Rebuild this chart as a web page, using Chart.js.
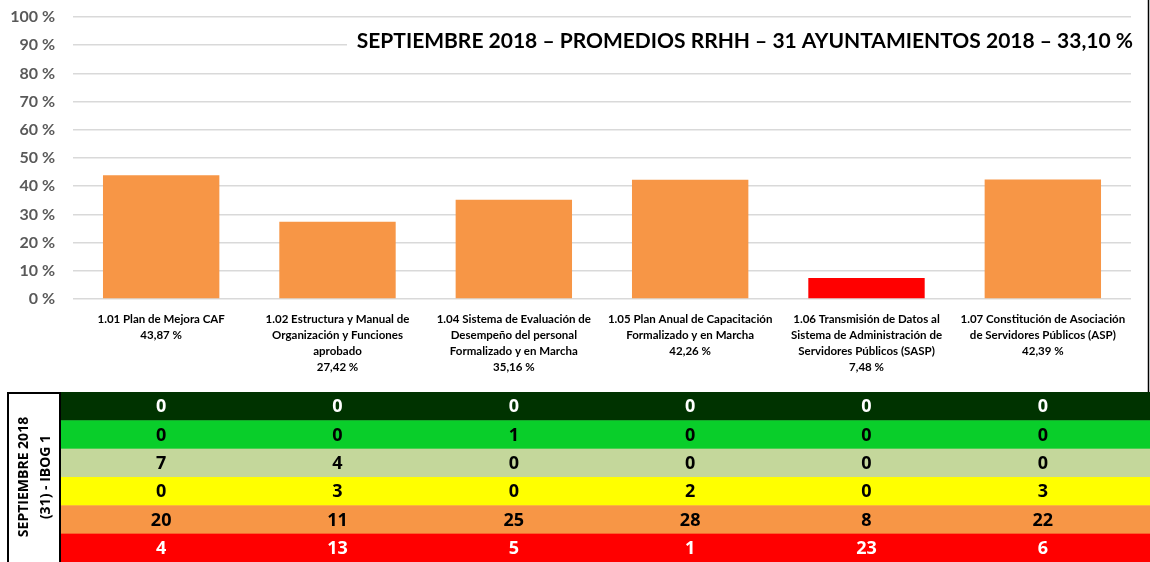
<!DOCTYPE html>
<html>
<head>
<meta charset="utf-8">
<script src="https://cdn.jsdelivr.net/npm/chart.js@4.4.0/dist/chart.umd.min.js"></script>
<style>
  body { margin: 0; background: #fff; }
  canvas { display: block; }
</style>
</head>
<body>
<canvas id="myChart" width="1150" height="562"></canvas>
<script>
// chart data
const categories = [
    ['1.01 Plan de Mejora CAF', '43,87 %'],
    ['1.02 Estructura y Manual de', 'Organización y Funciones', 'aprobado', '27,42 %'],
    ['1.04 Sistema de Evaluación de', 'Desempeño del personal', 'Formalizado y en Marcha', '35,16 %'],
    ['1.05 Plan Anual de Capacitación', 'Formalizado y en Marcha', '42,26 %'],
    ['1.06 Transmisión de Datos al', 'Sistema de Administración de', 'Servidores Públicos (SASP)', '7,48 %'],
    ['1.07 Constitución de Asociación', 'de Servidores Públicos (ASP)', '42,39 %']
];
const promedios = [43.87, 27.42, 35.16, 42.26, 7.48, 42.39];
const barColors = ['#F79646', '#F79646', '#F79646', '#F79646', '#FF0000', '#F79646'];
const yTicks = [0, 10, 20, 30, 40, 50, 60, 70, 80, 90, 100];

const titleText = 'SEPTIEMBRE 2018 – PROMEDIOS RRHH – 31 AYUNTAMIENTOS 2018 – 33,10 %';

// table under the chart (number of ayuntamientos per level)
const tableLabel = ['SEPTIEMBRE 2018', '(31) - IBOG 1'];
const rowDarkGreen = [0, 0, 0, 0, 0, 0];
const rowGreen = [0, 0, 1, 0, 0, 0];
const rowLightGreen = [7, 4, 0, 0, 0, 0];
const rowYellow = [0, 3, 0, 2, 0, 3];
const rowOrange = [20, 11, 25, 28, 8, 22];
const rowRed = [4, 13, 5, 1, 23, 6];

const tableRows = [
    {values: rowDarkGreen, bg: '#003300', fg: '#ffffff'},
    {values: rowGreen, bg: '#09CE2A', fg: '#000000'},
    {values: rowLightGreen, bg: '#C4D79B', fg: '#000000'},
    {values: rowYellow, bg: '#FFFF00', fg: '#000000'},
    {values: rowOrange, bg: '#F79646', fg: '#000000'},
    {values: rowRed, bg: '#FF0000', fg: '#ffffff'}
];

const TABLE_TOP = 392;
const TABLE_LEFT = 60;
const ROW_H = 28.33;

var extrasPlugin = {
    id: 'extras',
    afterDraw(chart) {
        var ctx = chart.ctx;
        var xScale = chart.scales.x;
        var area = chart.chartArea;

        ctx.save();

        // title box sits over the gridlines
        ctx.fillStyle = '#ffffff';
        ctx.fillRect(347, 26, area.right - 347 + 2, 34);
        ctx.fillStyle = '#000000';
        ctx.font = 'bold 21px Lato';
        ctx.textAlign = 'right';
        ctx.textBaseline = 'middle';
        ctx.fillText(titleText, 1133, 41);

        // right edge line of the chart
        ctx.strokeStyle = '#000000';
        ctx.lineWidth = 1.5;
        ctx.beginPath();
        ctx.moveTo(1148.5, 0);
        ctx.lineTo(1148.5, TABLE_TOP);
        ctx.stroke();

        // table rows
        ctx.textAlign = 'center';
        ctx.font = 'bold 18px "Open Sans"';
        for (var r = 0; r < tableRows.length; r++) {
            var row = tableRows[r];
            var top = TABLE_TOP + r * ROW_H;
            ctx.fillStyle = row.bg;
            ctx.fillRect(TABLE_LEFT, top, chart.width - TABLE_LEFT, ROW_H + 0.5);
            ctx.fillStyle = row.fg;
            for (var i = 0; i < row.values.length; i++) {
                ctx.fillText(String(row.values[i]), xScale.getPixelForValue(i), top + ROW_H / 2 + 1);
            }
        }

        // rotated label box on the left
        ctx.strokeStyle = '#000000';
        ctx.lineWidth = 2;
        ctx.strokeRect(8, TABLE_TOP + 1, TABLE_LEFT - 8, chart.height - TABLE_TOP + 4);
        ctx.save();
        ctx.translate(35, TABLE_TOP + (chart.height - TABLE_TOP) / 2);
        ctx.rotate(-Math.PI / 2);
        ctx.fillStyle = '#000000';
        ctx.font = 'bold 14px "Open Sans"';
        ctx.fillText(tableLabel[0], 0, -11);
        ctx.fillText(tableLabel[1], 0, 11);
        ctx.restore();

        ctx.restore();
    }
};

var ctx = document.getElementById('myChart').getContext('2d');

var myChart = new Chart(ctx, {
    type: 'bar',
    data: {
        labels: categories,
        datasets: [{
            data: promedios,
            backgroundColor: barColors,
            barPercentage: 0.66,
            categoryPercentage: 1
        }]
    },
    options: {
        responsive: false,
        animation: false,
        layout: {
            padding: {top: 17, right: 19, bottom: 170, left: 0}
        },
        plugins: {
            legend: {display: false},
            tooltip: {enabled: false}
        },
        scales: {
            x: {
                grid: {display: false, drawTicks: false},
                border: {display: false},
                ticks: {
                    color: '#000000',
                    font: {family: 'Lato', weight: 'bold', size: 11.5, lineHeight: 1.4},
                    padding: 12,
                    maxRotation: 0,
                    autoSkip: false
                },
                afterFit(scale) {
                    scale.height = 93;
                }
            },
            y: {
                min: 0,
                max: 100,
                afterBuildTicks(scale) {
                    scale.ticks = yTicks.map(v => ({value: v}));
                },
                // tick marks are invisible, they only push the labels away from the plot
                grid: {color: '#d9d9d9', lineWidth: 1.5, drawTicks: true, tickLength: 18, tickColor: 'rgba(0,0,0,0)'},
                border: {display: false},
                ticks: {
                    color: '#595959',
                    font: {family: 'Lato', weight: 'bold', size: 16},
                    padding: 0,
                    callback: v => v + ' %'
                },
                afterFit(scale) {
                    scale.width = 73;
                }
            }
        }
    },
    plugins: [extrasPlugin]
});
</script>
</body>
</html>
